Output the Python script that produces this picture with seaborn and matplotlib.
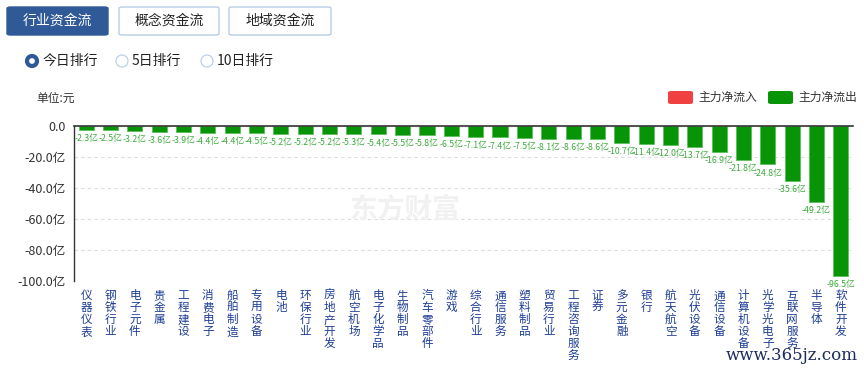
import matplotlib
matplotlib.use("Agg")
import matplotlib.pyplot as plt
from matplotlib.patches import FancyBboxPatch, Ellipse
import seaborn as sns
import pandas as pd

categories = ["仪器仪表", "钢铁行业", "电子元件", "贵金属", "工程建设", "消费电子", "船舶制造", "专用设备",
              "电池", "环保行业", "房地产开发", "航空机场", "电子化学品", "生物制品", "汽车零部件", "游戏",
              "综合行业", "通信服务", "塑料制品", "贸易行业", "工程咨询服务", "证券", "多元金融", "银行",
              "航天航空", "光伏设备", "通信设备", "计算机设备", "光学光电子", "互联网服务", "半导体", "软件开发"]
values = [-2.3, -2.5, -3.2, -3.6, -3.9, -4.4, -4.4, -4.5,
          -5.2, -5.2, -5.2, -5.3, -5.4, -5.5, -5.8, -6.5,
          -7.1, -7.4, -7.5, -8.1, -8.6, -8.6, -10.7, -11.4,
          -12.0, -13.7, -16.9, -21.8, -24.8, -35.6, -49.2, -96.5]
yticks = [0, -20, -40, -60, -80, -100]
ytick_labels = ["0.0", "-20.0亿", "-40.0亿", "-60.0亿", "-80.0亿", "-100.0亿"]
tabs = ["行业资金流", "概念资金流", "地域资金流"]
radios = ["今日排行", "5日排行", "10日排行"]
legend_labels = ["主力净流入", "主力净流出"]

sns.set_theme(style="white")
plt.rcParams['font.family'] = ['Noto Sans CJK SC', 'DejaVu Sans']

W, H = 864, 368
fig = plt.figure(figsize=(W / 100, H / 100), dpi=100)

def fx(px):
    return px / W

def fy(py):
    return 1 - py / H

# axes: x 74..853, y 126..281
ax = fig.add_axes([fx(74), fy(281), fx(853) - fx(74), fy(126) - fy(281)])
df = pd.DataFrame({"cat": categories, "val": values})
green = "#079407"
sns.barplot(data=df, x="cat", y="val", color=green, width=0.62, ax=ax,
            edgecolor="#5cbf5c", linewidth=0.6, saturation=1)
ax.set_xlim(-0.5, len(categories) - 0.5)
ax.set_ylim(-100, 0)
ax.set_xlabel("")
ax.set_ylabel("")

for sp in ["right", "bottom"]:
    ax.spines[sp].set_visible(False)
ax.spines["left"].set_color("#333333")
ax.spines["left"].set_linewidth(1.0)
ax.spines["top"].set_color("#333333")
ax.spines["top"].set_linewidth(1.2)
ax.spines["top"].set_zorder(5)

for yv in yticks[1:]:
    ax.axhline(yv, color="#dddddd", linestyle=(0, (3, 3)), linewidth=0.8, zorder=0)

ax.set_yticks(yticks)
ax.set_yticklabels(ytick_labels, fontsize=9, color="#333333")
ax.tick_params(axis="y", length=0, pad=6)

ax.set_xticks(range(len(categories)))
ax.set_xticklabels(["\n".join(c) for c in categories], fontsize=8.4, color="#1f3f96",
                   va="top", linespacing=0.9)
ax.tick_params(axis="x", length=0, pad=6)

for i, v in enumerate(values):
    ax.annotate(f"{v:.1f}亿", (i, v), xytext=(0, -3), textcoords="offset points",
                ha="center", va="top", fontsize=6.3, color="#3daa3d")

# watermark
fig.text(fx(405), fy(210), "东方财富", fontsize=20, color="#f1f1f1", fontweight="bold",
         ha="center", va="center", zorder=0)
fig.text(fx(858), fy(355), "www.365jz.com", fontsize=12, color="#1c2c5a",
         family="DejaVu Serif", ha="right", va="center")

# tabs
tab_boxes = [(7, 108), (119, 219), (229, 331)]
for i, (t, (x0, x1)) in enumerate(zip(tabs, tab_boxes)):
    active = i == 0
    p = FancyBboxPatch((fx(x0), fy(35)), fx(x1) - fx(x0), fy(7) - fy(35),
                       boxstyle="round,pad=0,rounding_size=0.004", transform=fig.transFigure,
                       facecolor="#2f5a97" if active else "white",
                       edgecolor="#2f5a97" if active else "#b7cde6", linewidth=1)
    fig.add_artist(p)
    fig.text(fx((x0 + x1) / 2), fy(21), t, fontsize=10, color="white" if active else "#222222",
             ha="center", va="center")

# radios
radio_pos = [(32, 43), (122, 132), (207, 217)]
for i, (r, (cx, tx)) in enumerate(zip(radios, radio_pos)):
    if i == 0:
        e = Ellipse((fx(cx), fy(61)), fx(10), fy(0) - fy(10), transform=fig.transFigure,
                    facecolor="white", edgecolor="#2f5a97", linewidth=3.0)
    else:
        e = Ellipse((fx(cx), fy(61)), fx(12), fy(0) - fy(12), transform=fig.transFigure,
                    facecolor="white", edgecolor="#bcd0e8", linewidth=0.9)
    fig.add_artist(e)
    fig.text(fx(tx), fy(61), r, fontsize=10, color="#222222", ha="left", va="center")

# unit
fig.text(fx(36), fy(98), "单位:元", fontsize=8.5, color="#333333", ha="left", va="center")

# legend
leg = [(668, "#f04040", legend_labels[0]), (768, green, legend_labels[1])]
for x0, col, lab in leg:
    p = FancyBboxPatch((fx(x0), fy(104)), fx(25), fy(91) - fy(104),
                       boxstyle="round,pad=0,rounding_size=0.004", transform=fig.transFigure,
                       facecolor=col, edgecolor="none")
    fig.add_artist(p)
    fig.text(fx(x0 + 30), fy(97.5), lab, fontsize=8.5, color="#333333", ha="left", va="center")

fig.savefig("out.png", dpi=100)
